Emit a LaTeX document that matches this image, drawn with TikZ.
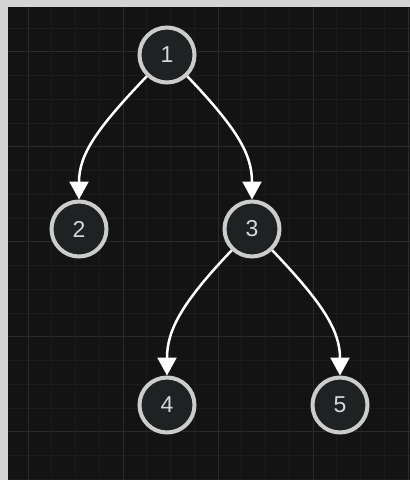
\documentclass[tikz,border=0pt]{standalone}
\usepackage{fontspec}
\setmainfont{Liberation Sans}
\usetikzlibrary{arrows.meta}
\definecolor{frame}{HTML}{D3D3D3}
\definecolor{canvas}{HTML}{131313}
\definecolor{minorgrid}{HTML}{1C1C1C}
\definecolor{majorgrid}{HTML}{2A2A2A}
\definecolor{ring}{HTML}{CCCCCC}
\definecolor{nodefill}{HTML}{1F2223}
\definecolor{label}{HTML}{D4D6D8}
\begin{document}
\begin{tikzpicture}[x=1pt,y=-1pt,
  treenode/.style={circle, draw=ring, line width=4pt, fill=nodefill,
    minimum size=55pt, inner sep=0pt, text=label,
    font=\fontsize{23}{23}\selectfont},
  link/.style={draw=white, line width=2.5pt,
    -{Triangle[width=19pt,length=18pt]}},
  minorline/.style={draw=minorgrid, line width=1pt},
  majorline/.style={draw=majorgrid, line width=1pt}]
  % background
  \fill[frame] (0,0) rectangle (410,480);
  \useasboundingbox (0,0) rectangle (410,480);
  \fill[canvas] (8,7) rectangle (410,480);
  % grid
  \foreach \i in {0,...,16} {
    \draw[minorline] ({28+23.75*\i},7) -- ({28+23.75*\i},480);
  }
  \foreach \i in {0,...,19} {
    \draw[minorline] (8,{28+23.75*\i}) -- (410,{28+23.75*\i});
  }
  \foreach \i in {0,...,4} {
    \draw[majorline] ({28+95*\i},7) -- ({28+95*\i},480);
    \draw[majorline] (8,{51.75+95*\i}) -- (410,{51.75+95*\i});
  }
  % nodes
  \node[treenode] (n1) at (167,55) {1};
  \node[treenode] (n2) at (79,229) {2};
  \node[treenode] (n3) at (252,229) {3};
  \node[treenode] (n4) at (167,405) {4};
  \node[treenode] (n5) at (340,405) {5};
  % edges
  \draw[link] (n1) .. controls (97,128.5) and (79,154) .. (n2);
  \draw[link] (n1) .. controls (237,128.5) and (252,154) .. (n3);
  \draw[link] (n3) .. controls (182,302.5) and (167,330) .. (n4);
  \draw[link] (n3) .. controls (322,302.5) and (340,330) .. (n5);
\end{tikzpicture}
\end{document}
